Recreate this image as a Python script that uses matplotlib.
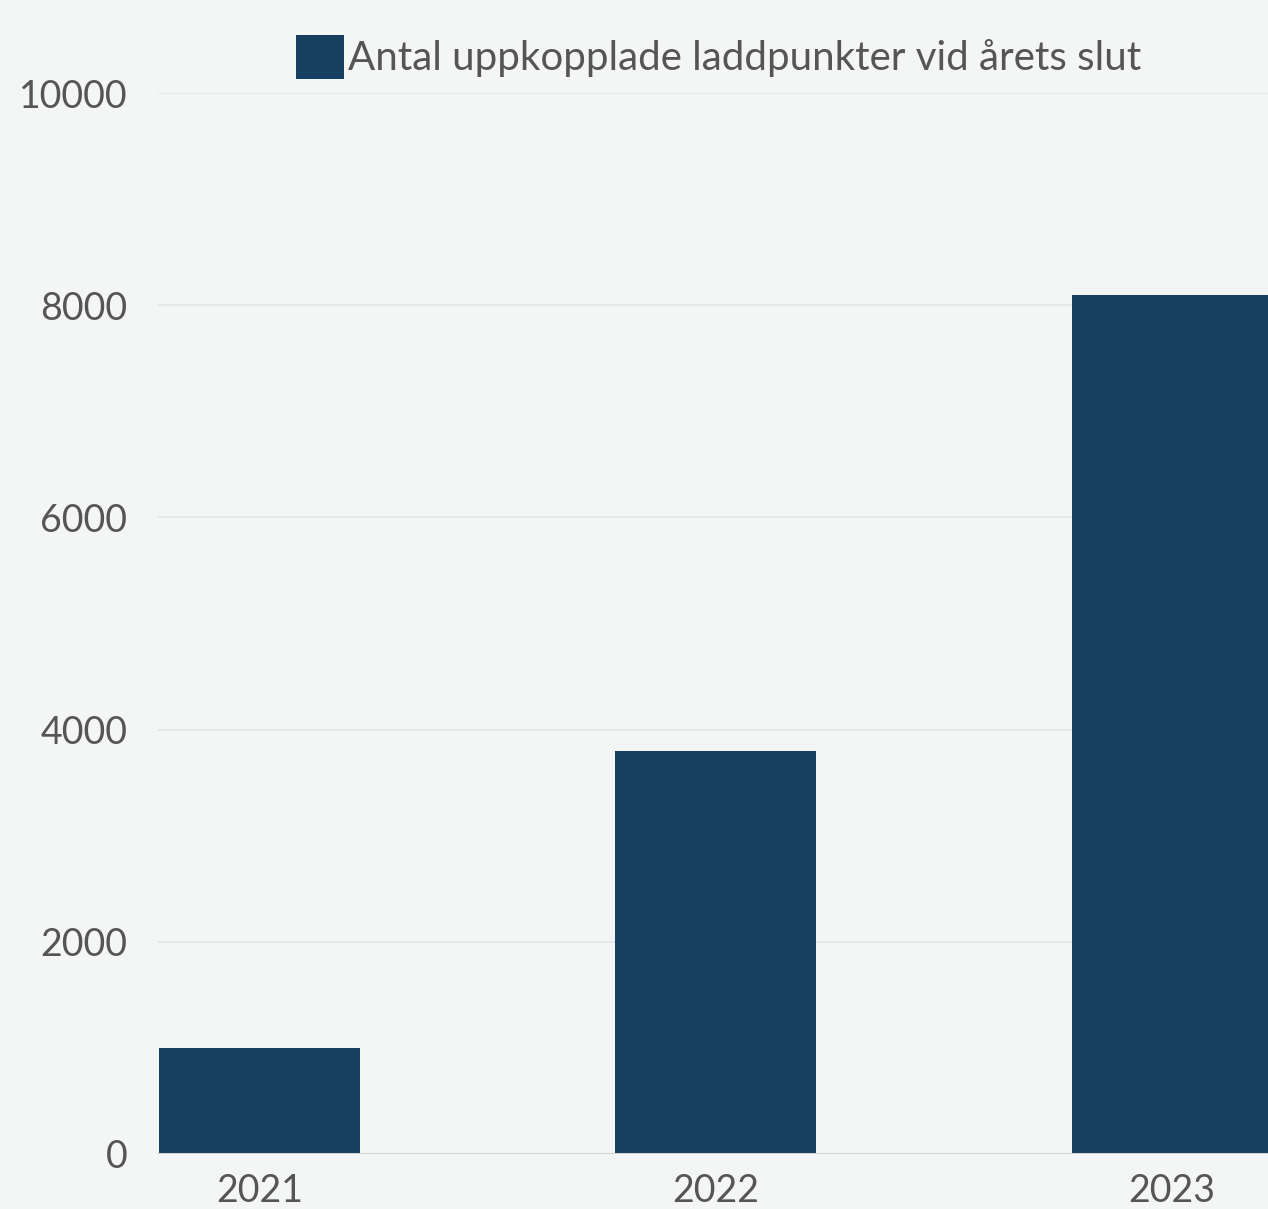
import matplotlib.pyplot as plt

years = ['2021', '2022', '2023']
counts = [1000, 3800, 8100]
legend_label = 'Antal uppkopplade laddpunkter vid årets slut'
y_ticks = [0, 2000, 4000, 6000, 8000, 10000]

bg = '#f4f6f5'
bar_color = '#173f5f'
text_color = '#555555'

plt.rcParams['font.family'] = ['Lato', 'DejaVu Sans']

fig = plt.figure(figsize=(12.68, 12.09), dpi=100, facecolor=bg)
ax = fig.add_axes([158 / 1268, 1 - 1154 / 1209, 1 - 158 / 1268, (1154 - 93) / 1209])
ax.set_facecolor(bg)

x = list(range(len(years)))
ax.bar(x, counts, width=0.44, color=bar_color, label=legend_label, zorder=3)

ax.set_xlim(-0.222, 2.21)
ax.set_ylim(0, 10000)
ax.set_yticks(y_ticks)
ax.set_xticks(x)
ax.set_xticklabels(years)

ax.grid(axis='y', color='#e4e6e5', linewidth=1.2, zorder=0)
ax.axhline(0, color='#d2d4d3', linewidth=1.5, zorder=4)
for s in ax.spines.values():
    s.set_visible(False)
ax.tick_params(axis='both', length=0, labelsize=27, labelcolor=text_color)
ax.tick_params(axis='y', pad=22)
ax.tick_params(axis='x', pad=14)

leg = ax.legend(loc='upper left', bbox_to_anchor=(296 / 1268, 1 - 35 / 1209),
                bbox_transform=fig.transFigure, frameon=False, fontsize=29,
                handlelength=1.2, handleheight=1.3, handletextpad=0.1,
                borderpad=0, borderaxespad=0)
for t in leg.get_texts():
    t.set_color(text_color)

fig.savefig('out.png', dpi=100, facecolor=bg)
